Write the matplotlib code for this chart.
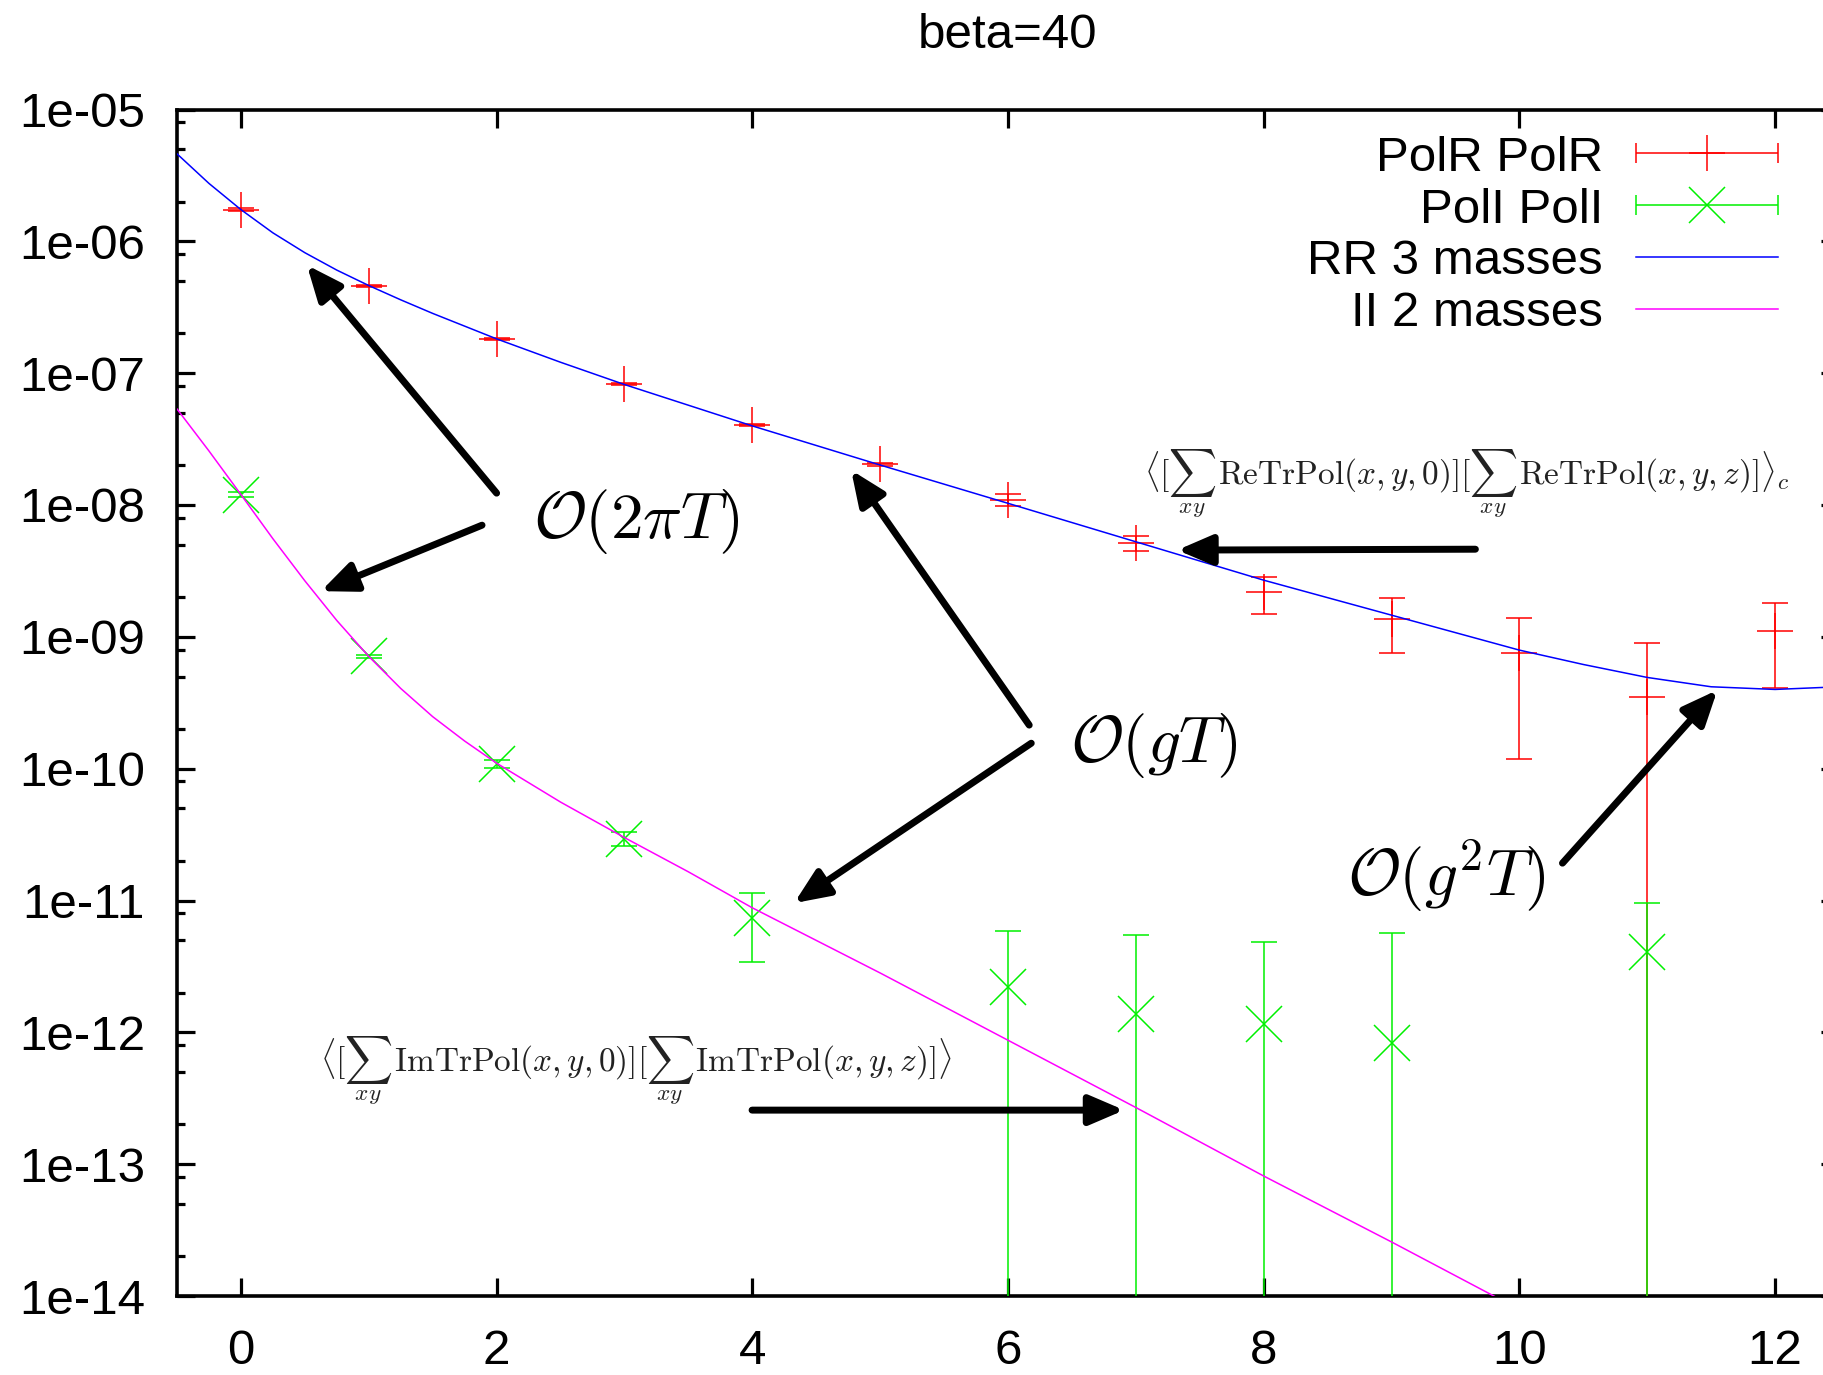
import numpy as np
import matplotlib
matplotlib.use("Agg")
import matplotlib.pyplot as plt
from matplotlib.container import ErrorbarContainer
from matplotlib.legend_handler import HandlerErrorbar
from matplotlib.lines import Line2D
from matplotlib.collections import LineCollection
from matplotlib.ticker import FixedLocator, FixedFormatter, LogLocator, NullFormatter

# ---------------- data ----------------
title_text = "beta=40"

polr_x = [0, 1, 2, 3, 4, 5, 6, 7, 8, 9, 10, 11, 12]
polr_y = [1.74e-6, 4.58e-7, 1.82e-7, 8.26e-8, 4.04e-8, 2.04e-8, 1.10e-8,
          5.16e-9, 2.18e-9, 1.37e-9, 7.59e-10, 3.52e-10, 1.10e-9]
polr_err = [0.04e-6, 0.10e-7, 0.04e-7, 0.15e-8, 0.08e-8, 0.06e-8, 0.11e-8,
            0.66e-9, 0.68e-9, 0.61e-9, 6.4e-10, 5.52e-10, 0.69e-9]

poli_x = [0, 1, 2, 3, 4, 6, 7, 8, 9, 11]
poli_y = [1.20e-8, 7.13e-10, 1.09e-10, 2.95e-11, 7.43e-12, 2.22e-12,
          1.38e-12, 1.16e-12, 8.3e-13, 4.09e-12]
poli_err = [0.05e-8, 0.2e-10, 0.08e-10, 3.4e-12, 4.0e-12, 3.68e-12,
            4.1e-12, 3.7e-12, 4.8e-12, 5.5e-12]

rr_x = [-0.5, -0.25, 0, 0.25, 0.5, 0.75, 1, 1.25, 1.5, 2, 2.5, 3, 4, 5, 6,
        7, 8, 9, 10, 10.5, 11, 11.5, 12, 12.5]
rr_y = [4.61e-6, 2.75e-6, 1.74e-6, 1.16e-6, 8.20e-7, 6.05e-7, 4.62e-7,
        3.60e-7, 2.84e-7, 1.82e-7, 1.21e-7, 8.20e-8, 3.98e-8, 2.01e-8,
        1.03e-8, 5.26e-9, 2.69e-9, 1.46e-9, 7.93e-10, 6.17e-10, 4.92e-10,
        4.18e-10, 3.99e-10, 4.18e-10]

ii_x = [-0.5, -0.25, 0, 0.25, 0.5, 0.75, 1, 1.25, 1.5, 1.75, 2, 2.5, 3, 3.5,
        4, 5, 6, 7, 8, 9, 10]
ii_y = [5.35e-8, 2.57e-8, 1.20e-8, 5.55e-9, 2.66e-9, 1.33e-9, 7.10e-10,
        4.06e-10, 2.48e-10, 1.62e-10, 1.10e-10, 5.58e-11, 3.0e-11, 1.65e-11,
        8.8e-12, 2.82e-12, 8.71e-13, 2.69e-13, 8.13e-14, 2.57e-14, 7.9e-15]

legend_labels = ["PolR PolR", "PolI PolI", "RR 3 masses", "II 2 masses"]

x_ticks = [0, 2, 4, 6, 8, 10, 12]
x_tick_labels = ["0", "2", "4", "6", "8", "10", "12"]
y_ticks = [1e-5, 1e-6, 1e-7, 1e-8, 1e-9, 1e-10, 1e-11, 1e-12, 1e-13, 1e-14]
y_tick_labels = ["1e-05", "1e-06", "1e-07", "1e-08", "1e-09", "1e-10",
                 "1e-11", "1e-12", "1e-13", "1e-14"]

# annotation texts and their anchor points (data coordinates)
label_texts = [r"$\mathcal{O}(2\pi T)$", r"$\mathcal{O}(gT)$", r"$\mathcal{O}(g^2T)$"]
label_pos = [(3.09, 7.55e-9), (7.14, 1.51e-10), (9.43, 1.55e-11)]

formula_re = (r"$\langle[\sum_{xy}\,\mathrm{ReTrPol}(x,y,0)]"
              r"[\sum_{xy}\,\mathrm{ReTrPol}(x,y,z)]\rangle_c$")
formula_im = (r"$\langle[\sum_{xy}\,\mathrm{ImTrPol}(x,y,0)]"
              r"[\sum_{xy}\,\mathrm{ImTrPol}(x,y,z)]\rangle$")
formula_pos = [(9.59, 1.47e-8), (3.09, 5.15e-13)]

# arrows: (tail, tip) in data coordinates
arrows = [((2.00, 1.23e-8), (0.516, 6.6e-7)),
          ((1.886, 7.03e-9), (0.626, 2.22e-9)),
          ((6.166, 2.14e-10), (4.773, 1.84e-8)),
          ((6.182, 1.56e-10), (4.327, 9.55e-12)),
          ((9.656, 4.62e-9), (7.324, 4.55e-9)),
          ((10.337, 1.92e-11), (11.549, 3.95e-10)),
          ((3.998, 2.57e-13), (6.909, 2.57e-13))]

# ---------------- figure ----------------
plt.rcParams["font.family"] = ["Liberation Sans", "DejaVu Sans"]
plt.rcParams["mathtext.fontset"] = "cm"

FS = 35.5
W, H = 1823, 1375
fig = plt.figure(figsize=(W / 100, H / 100), dpi=100)
ax = fig.add_axes([177 / W, 79 / H, (1839 - 177) / W, (1296 - 109.5) / H])
ax.set_yscale("log")
ax.set_xlim(-0.5, 12.5)
ax.set_ylim(1e-14, 1e-5)

RED, GREEN, BLUE, MAG = "#ff0000", "#00f000", "#0000ff", "#ff00ff"

ax.errorbar(polr_x, polr_y, yerr=polr_err, fmt="+", color=RED, ms=26, mew=1.1,
            elinewidth=1.1, capsize=9.7, capthick=1.1, zorder=3)
ax.plot(rr_x, rr_y, color=BLUE, lw=1.1, zorder=4)
ax.errorbar(poli_x, poli_y, yerr=poli_err, fmt="x", color=GREEN, ms=26, mew=1.1,
            elinewidth=1.1, capsize=9.7, capthick=1.1, zorder=3)
ax.plot(ii_x, ii_y, color=MAG, lw=1.1, zorder=4)

# ticks
ax.xaxis.set_major_locator(FixedLocator(x_ticks))
ax.xaxis.set_major_formatter(FixedFormatter(x_tick_labels))
ax.yaxis.set_major_locator(FixedLocator(y_ticks))
ax.yaxis.set_major_formatter(FixedFormatter(y_tick_labels))
ax.yaxis.set_minor_locator(LogLocator(base=10, subs=[2, 5, 8], numticks=30))
ax.yaxis.set_minor_formatter(NullFormatter())
ax.tick_params(axis="both", which="major", direction="in", length=13, width=2.3,
               labelsize=FS, top=True, right=True)
ax.tick_params(axis="both", which="minor", direction="in", length=6, width=2.3,
               top=True, right=True)
ax.tick_params(axis="x", which="minor", bottom=False, top=False)
ax.tick_params(axis="x", which="major", pad=24)
ax.tick_params(axis="y", which="major", pad=23)
for s in ax.spines.values():
    s.set_linewidth(2.6)

# title
fig.text((177 + 1839) / 2 / W, 1 - 35 / H, title_text, ha="center", va="center",
         fontsize=FS)

# legend with horizontal error-bar samples
def eb_proxy(color, marker, label):
    pl = Line2D([], [], color=color, marker=marker, ms=26, mew=1.1, ls="none")
    cap = Line2D([], [], color=color, marker="|", ms=14.4, mew=1.1, ls="none")
    bar = LineCollection([], colors=color, linewidths=1.1)
    return ErrorbarContainer((pl, (cap,), (bar,)), has_xerr=True,
                             has_yerr=False, label=label)

h1 = eb_proxy(RED, "+", legend_labels[0])
h2 = eb_proxy(GREEN, "x", legend_labels[1])
h3 = Line2D([], [], color=BLUE, lw=1.1)
h4 = Line2D([], [], color=MAG, lw=1.1)
ax.legend([h1, h2, h3, h4], legend_labels, loc="upper right",
          bbox_to_anchor=(0.9633, 0.978), frameon=False, markerfirst=False,
          handlelength=2.88, handletextpad=0.67, labelspacing=0.14,
          borderpad=0, borderaxespad=0, fontsize=FS,
          handler_map={ErrorbarContainer: HandlerErrorbar(xerr_size=1.44)})

# annotations
for txt, (x, y) in zip(label_texts, label_pos):
    ax.text(x, y, txt, fontsize=47, ha="center", va="center", zorder=6)
ax.text(formula_pos[0][0], formula_pos[0][1], formula_re, fontsize=24,
        ha="center", va="baseline", color="#222222", zorder=6)
ax.text(formula_pos[1][0], formula_pos[1][1], formula_im, fontsize=24,
        ha="center", va="baseline", color="#222222", zorder=6)

for tail, tip in arrows:
    ax.annotate("", xy=tip, xytext=tail,
                arrowprops=dict(arrowstyle="-|>,head_length=2.1,head_width=0.9",
                                mutation_scale=10, lw=5, color="black",
                                shrinkA=0, shrinkB=0),
                zorder=7)

fig.savefig("out.png", dpi=100)
